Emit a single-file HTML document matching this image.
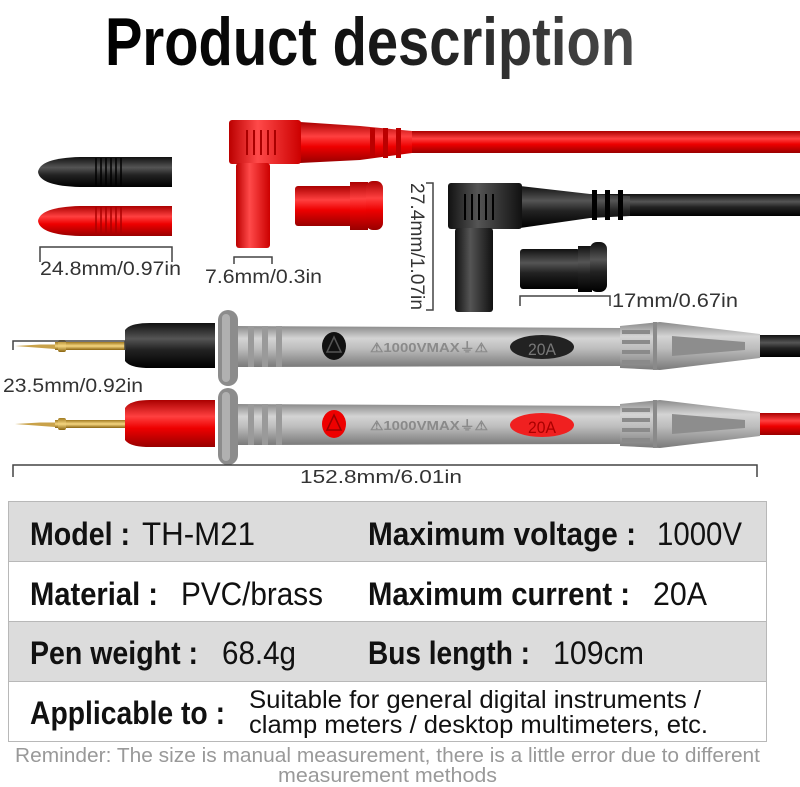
<!DOCTYPE html>
<html><head><meta charset="utf-8"><style>
html,body{margin:0;padding:0;background:#fff;}
svg{display:block;font-family:"Liberation Sans",sans-serif;}
</style></head><body>
<svg width="800" height="787" viewBox="0 0 800 787" xmlns="http://www.w3.org/2000/svg">
<defs>
<linearGradient id="tg" x1="0" x2="1"><stop offset="0" stop-color="#000"/><stop offset="0.45" stop-color="#111"/><stop offset="1" stop-color="#4a4a4a"/></linearGradient>
<linearGradient id="gray" x1="0" y1="0" x2="0" y2="1"><stop offset="0" stop-color="#8a8a8a"/><stop offset="0.3" stop-color="#d4d4d4"/><stop offset="0.55" stop-color="#bdbdbd"/><stop offset="1" stop-color="#7a7a7a"/></linearGradient>
<linearGradient id="blk" x1="0" y1="0" x2="0" y2="1"><stop offset="0" stop-color="#111"/><stop offset="0.35" stop-color="#555"/><stop offset="0.6" stop-color="#222"/><stop offset="1" stop-color="#000"/></linearGradient>
<linearGradient id="red" x1="0" y1="0" x2="0" y2="1"><stop offset="0" stop-color="#a00"/><stop offset="0.35" stop-color="#ff4040"/><stop offset="0.6" stop-color="#e00"/><stop offset="1" stop-color="#900"/></linearGradient>
<linearGradient id="redv" x1="0" y1="0" x2="1" y2="0"><stop offset="0" stop-color="#b00"/><stop offset="0.4" stop-color="#ff4a4a"/><stop offset="1" stop-color="#c00"/></linearGradient>
<linearGradient id="blkv" x1="0" y1="0" x2="1" y2="0"><stop offset="0" stop-color="#111"/><stop offset="0.4" stop-color="#555"/><stop offset="1" stop-color="#111"/></linearGradient>
<linearGradient id="gold" x1="0" y1="0" x2="0" y2="1"><stop offset="0" stop-color="#a07a20"/><stop offset="0.5" stop-color="#f5d680"/><stop offset="1" stop-color="#8a6410"/></linearGradient>
</defs>

<text x="105" y="65" font-size="68" font-weight="bold" fill="url(#tg)" textLength="530" lengthAdjust="spacingAndGlyphs">Product description</text>

<path d="M38,172 Q40,158 80,157 L172,157 L172,187 L80,187 Q40,186 38,172Z" fill="url(#blk)"/>
<g stroke="#000" stroke-width="1.5"><line x1="96" y1="158" x2="96" y2="186"/><line x1="101" y1="158" x2="101" y2="186"/><line x1="106" y1="158" x2="106" y2="186"/><line x1="111" y1="158" x2="111" y2="186"/><line x1="116" y1="158" x2="116" y2="186"/><line x1="121" y1="158" x2="121" y2="186"/></g>
<path d="M38,221 Q40,207 80,206 L172,206 L172,236 L80,236 Q40,235 38,221Z" fill="url(#red)"/>
<g stroke="#a00" stroke-width="1.5"><line x1="96" y1="207" x2="96" y2="235"/><line x1="101" y1="207" x2="101" y2="235"/><line x1="106" y1="207" x2="106" y2="235"/><line x1="111" y1="207" x2="111" y2="235"/><line x1="116" y1="207" x2="116" y2="235"/><line x1="121" y1="207" x2="121" y2="235"/></g>
<path d="M40,262 V247 H172 V262" fill="none" stroke="#444" stroke-width="1.5"/>
<text x="40" y="275" font-size="19" fill="#333" textLength="141" lengthAdjust="spacingAndGlyphs">24.8mm/0.97in</text>

<rect x="410" y="131" width="390" height="22" fill="url(#red)"/>
<path d="M300,122 L360,126 L412,131 L412,153 L360,160 L300,163Z" fill="url(#red)"/>
<g fill="#b00"><rect x="370" y="128" width="5" height="30"/><rect x="383" y="128" width="5" height="30"/><rect x="396" y="128" width="5" height="30"/></g>
<rect x="229" y="120" width="72" height="44" rx="3" fill="url(#redv)"/>
<g stroke="#a00" stroke-width="2"><line x1="247" y1="130" x2="247" y2="155"/><line x1="254" y1="130" x2="254" y2="155"/><line x1="261" y1="130" x2="261" y2="155"/><line x1="268" y1="130" x2="268" y2="155"/><line x1="275" y1="130" x2="275" y2="155"/></g>
<rect x="236" y="163" width="34" height="85" rx="3" fill="url(#redv)"/>
<path d="M234,264 V257 H272 V264" fill="none" stroke="#444" stroke-width="1.5"/>
<text x="205" y="283" font-size="19" fill="#333" textLength="117" lengthAdjust="spacingAndGlyphs">7.6mm/0.3in</text>
<rect x="295" y="186" width="58" height="40" rx="3" fill="url(#red)"/>
<rect x="350" y="182" width="18" height="48" fill="url(#red)"/>
<rect x="366" y="181" width="17" height="49" rx="7" fill="url(#red)"/>

<rect x="520" y="194" width="280" height="22" fill="url(#blk)"/>
<path d="M520,186 L590,194 L630,196 L630,216 L590,218 L520,228Z" fill="url(#blk)"/>
<g fill="#000"><rect x="592" y="190" width="5" height="30"/><rect x="605" y="190" width="5" height="30"/><rect x="618" y="190" width="5" height="30"/></g>
<rect x="448" y="183" width="74" height="46" rx="3" fill="url(#blkv)"/>
<g stroke="#000" stroke-width="2"><line x1="465" y1="194" x2="465" y2="220"/><line x1="472" y1="194" x2="472" y2="220"/><line x1="479" y1="194" x2="479" y2="220"/><line x1="486" y1="194" x2="486" y2="220"/><line x1="493" y1="194" x2="493" y2="220"/></g>
<rect x="455" y="228" width="38" height="84" rx="3" fill="url(#blkv)"/>
<path d="M426,183 H433 V310 H426" fill="none" stroke="#444" stroke-width="1.5"/>
<text transform="translate(411,183) rotate(90)" font-size="19" fill="#333" textLength="127" lengthAdjust="spacingAndGlyphs">27.4mm/1.07in</text>
<rect x="520" y="249" width="60" height="40" rx="3" fill="url(#blk)"/>
<rect x="578" y="246" width="14" height="46" fill="url(#blk)"/>
<rect x="590" y="242" width="17" height="50" rx="7" fill="url(#blk)"/>
<path d="M520,306 V296 H610 V306" fill="none" stroke="#444" stroke-width="1.5"/>
<text x="612" y="307" font-size="19" fill="#333" textLength="126" lengthAdjust="spacingAndGlyphs">17mm/0.67in</text>

<g>
<rect x="750" y="335" width="50" height="22" fill="url(#blk)"/>
<path d="M15,346 L40,344.5 L55,344.5 L55,349 Z" fill="#c9a24a"/>
<rect x="55" y="342" width="70" height="8" fill="url(#gold)"/>
<rect x="58" y="340" width="8" height="12" rx="2" fill="url(#gold)"/>
<path d="M125,330 Q130,323 150,323 L215,323 L215,368 L150,368 Q130,368 125,361Z" fill="url(#blk)"/>
<path d="M236,326 L620,328 L620,366 L236,367Z" fill="url(#gray)"/>
<g fill="#9a9a9a"><rect x="248" y="326" width="6" height="41"/><rect x="262" y="326" width="6" height="41"/><rect x="276" y="326" width="6" height="41"/></g>
<path d="M620,326 L660,322 L760,334 L760,358 L660,370 L620,368Z" fill="url(#gray)"/>
<g fill="#8a8a8a"><rect x="622" y="330" width="28" height="4"/><rect x="622" y="340" width="28" height="4"/><rect x="622" y="350" width="28" height="4"/><rect x="622" y="360" width="28" height="4"/><rect x="653" y="322" width="4" height="48"/></g>
<path d="M672,336 L745,342 L745,350 L672,356Z" fill="#8d8d8d"/>
<rect x="218" y="310" width="20" height="76" rx="10" fill="#8c8c8c"/>
<rect x="222" y="314" width="8" height="68" rx="4" fill="#b0b0b0"/>
<ellipse cx="334" cy="346" rx="12" ry="14" fill="#111"/>
<path d="M334,337 L341,352 L327,352Z" fill="none" stroke="#555" stroke-width="1.5"/>
<text x="370" y="352" font-size="13" font-weight="bold" fill="#8a8a8a" textLength="118" lengthAdjust="spacingAndGlyphs">⚠1000VMAX⏚⚠</text>
<ellipse cx="542" cy="347" rx="32" ry="12" fill="#222"/>
<text x="528" y="355" font-size="17" fill="#777" textLength="28" lengthAdjust="spacingAndGlyphs">20A</text>
</g>

<g>
<rect x="750" y="413" width="50" height="22" fill="url(#red)"/>
<path d="M15,424 L40,422.5 L55,422.5 L55,427 Z" fill="#c9a24a"/>
<rect x="55" y="420" width="70" height="8" fill="url(#gold)"/>
<rect x="58" y="418" width="8" height="12" rx="2" fill="url(#gold)"/>
<path d="M125,408 Q130,400 150,400 L215,400 L215,447 L150,447 Q130,447 125,440Z" fill="url(#red)"/>
<path d="M236,404 L620,406 L620,444 L236,445Z" fill="url(#gray)"/>
<g fill="#9a9a9a"><rect x="248" y="404" width="6" height="41"/><rect x="262" y="404" width="6" height="41"/><rect x="276" y="404" width="6" height="41"/></g>
<path d="M620,404 L660,400 L760,412 L760,436 L660,448 L620,446Z" fill="url(#gray)"/>
<g fill="#8a8a8a"><rect x="622" y="408" width="28" height="4"/><rect x="622" y="418" width="28" height="4"/><rect x="622" y="428" width="28" height="4"/><rect x="622" y="438" width="28" height="4"/><rect x="653" y="400" width="4" height="48"/></g>
<path d="M672,414 L745,420 L745,428 L672,434Z" fill="#8d8d8d"/>
<rect x="218" y="388" width="20" height="77" rx="10" fill="#8c8c8c"/>
<rect x="222" y="392" width="8" height="69" rx="4" fill="#b0b0b0"/>
<ellipse cx="334" cy="424" rx="12" ry="14" fill="#e00"/>
<path d="M334,415 L341,430 L327,430Z" fill="none" stroke="#900" stroke-width="1.5"/>
<text x="370" y="430" font-size="13" font-weight="bold" fill="#8a8a8a" textLength="118" lengthAdjust="spacingAndGlyphs">⚠1000VMAX⏚⚠</text>
<ellipse cx="542" cy="425" rx="32" ry="12" fill="#f02020"/>
<text x="528" y="433" font-size="17" fill="#a00" textLength="28" lengthAdjust="spacingAndGlyphs">20A</text>
</g>

<path d="M13,350 V341 H125 V350" fill="none" stroke="#444" stroke-width="1.5"/>
<text x="3" y="392" font-size="19" fill="#333" textLength="140" lengthAdjust="spacingAndGlyphs">23.5mm/0.92in</text>
<path d="M13,477 V465 H757 V477" fill="none" stroke="#444" stroke-width="1.5"/>
<text x="300" y="483" font-size="18" fill="#333" textLength="162" lengthAdjust="spacingAndGlyphs">152.8mm/6.01in</text>

<rect x="8.5" y="501.5" width="758" height="60" fill="#dcdcdc" stroke="#b8b8b8"/>
<rect x="8.5" y="561.5" width="758" height="60" fill="#fff" stroke="#b8b8b8"/>
<rect x="8.5" y="621.5" width="758" height="60" fill="#dcdcdc" stroke="#b8b8b8"/>
<rect x="8.5" y="681.5" width="758" height="60" fill="#fff" stroke="#b8b8b8"/>
<g fill="#111" font-size="32">
<text x="30" y="545" font-weight="bold" textLength="100" lengthAdjust="spacingAndGlyphs">Model :</text>
<text x="142" y="545" textLength="113" lengthAdjust="spacingAndGlyphs">TH-M21</text>
<text x="368" y="545" font-weight="bold" textLength="268" lengthAdjust="spacingAndGlyphs">Maximum voltage :</text>
<text x="657" y="545" textLength="85" lengthAdjust="spacingAndGlyphs">1000V</text>
<text x="30" y="605" font-weight="bold" textLength="128" lengthAdjust="spacingAndGlyphs">Material :</text>
<text x="181" y="605" textLength="142" lengthAdjust="spacingAndGlyphs">PVC/brass</text>
<text x="368" y="605" font-weight="bold" textLength="262" lengthAdjust="spacingAndGlyphs">Maximum current :</text>
<text x="653" y="605" textLength="54" lengthAdjust="spacingAndGlyphs">20A</text>
<text x="30" y="664" font-weight="bold" textLength="168" lengthAdjust="spacingAndGlyphs">Pen weight :</text>
<text x="222" y="664" textLength="74" lengthAdjust="spacingAndGlyphs">68.4g</text>
<text x="368" y="664" font-weight="bold" textLength="162" lengthAdjust="spacingAndGlyphs">Bus length :</text>
<text x="553" y="664" textLength="91" lengthAdjust="spacingAndGlyphs">109cm</text>
<text x="30" y="724" font-weight="bold" textLength="195" lengthAdjust="spacingAndGlyphs">Applicable to :</text>
<text x="249" y="708" font-size="25" textLength="452" lengthAdjust="spacingAndGlyphs">Suitable for general digital instruments /</text>
<text x="249" y="733" font-size="25" textLength="459" lengthAdjust="spacingAndGlyphs">clamp meters / desktop multimeters, etc.</text>
</g>
<text x="15" y="762" font-size="20" fill="#999" textLength="745" lengthAdjust="spacingAndGlyphs">Reminder: The size is manual measurement, there is a little error due to different</text>
<text x="278" y="782" font-size="20" fill="#999" textLength="219" lengthAdjust="spacingAndGlyphs">measurement methods</text>
</svg>
</body></html>
